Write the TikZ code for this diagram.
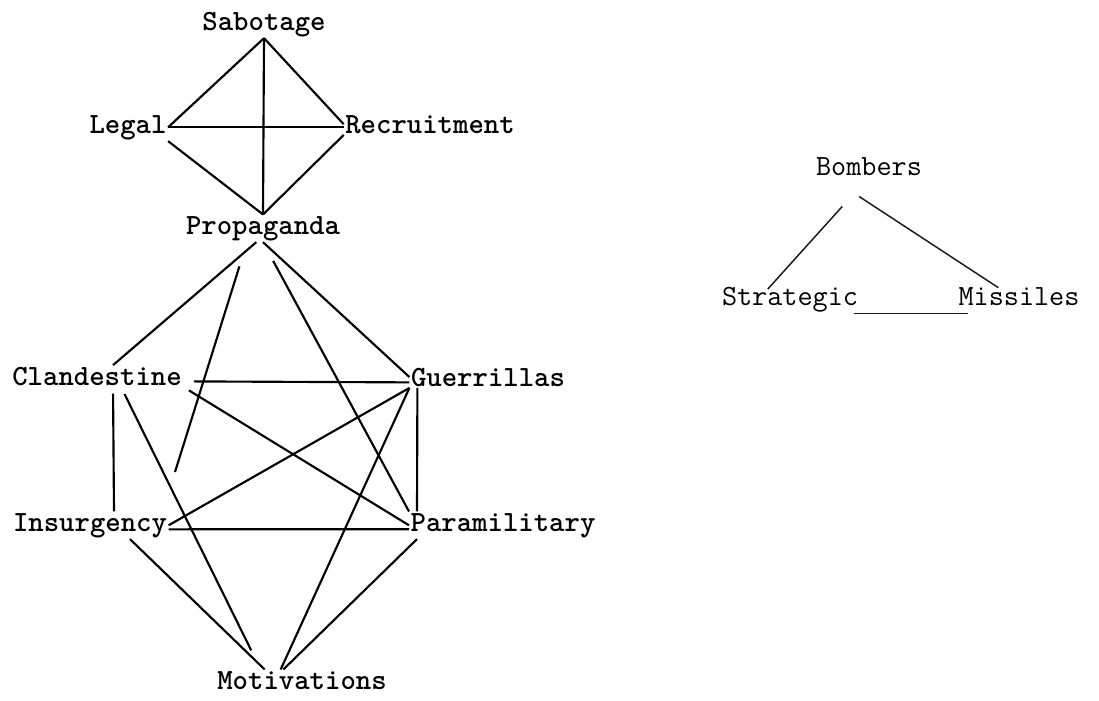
\documentclass[tikz,border=0pt]{standalone}
\usepackage{tikz}
\tikzset{
  term/.style={anchor=base,inner sep=1pt,font=\fontsize{22}{26}\selectfont\ttfamily\bfseries},
  termlight/.style={term,font=\fontsize{22}{26}\selectfont\ttfamily},
  bond/.style={line width=1.6pt,black},
  bondthin/.style={line width=1.1pt,black!90},
}

\begin{document}
\begin{tikzpicture}[x=0.75pt,y=-0.75pt]
	    \useasboundingbox (0,0) rectangle (1099,700);
	    \node[term] (Sab) at (264,30) {Sabotage};
	    \node[term] (Leg) at (128,133) {Legal};
	    \node[term] (Rec) at (430,133) {Recruitment};
	    \node[term] (Prop) at (263,234) {Propaganda};
	    \node[term] (Clan) at (97,385) {Clandestine};
	    \node[term] (Guer) at (488,386) {Guerrillas};
	    \node[term] (Ins) at (90,531) {Insurgency};
	    \node[term] (Para) at (503,531) {Paramilitary};
	    \node[term] (Mot) at (302,689) {Motivations};
	    \coordinate (Loose) at (175,472);
	    \node[termlight] (Bomb) at (869,175) {Bombers};
	    \node[termlight] (Strat) at (790,305) {Strategic};
	    \node[termlight] (Miss) at (1019,305) {Missiles};
	    \draw (Sab.south) edge[bond] (Leg.east) edge[bond] (Rec.west) edge[bond] (Prop.north);
	    \draw (Leg.east) edge[bond] (Leg.east -| Rec.west);
	    \draw (Leg.south east) edge[bond] (Prop.north);
	    \draw (Rec.south west) edge[bond] (Prop.north);
	    \draw ([xshift=-5pt]Prop.south) edge[bond] ([xshift=12pt]Clan.north);
	    \draw (Prop.south) edge[bond] (Guer.west);
	    \draw ([xshift=-12pt]Prop.south) edge[bond,shorten <=19pt] (Loose);
	    \draw (Prop.south) edge[bond,shorten <=16pt] (Para.north west);
	    \draw ([yshift=-4pt]Clan.east) edge[bond,shorten <=8pt] ([yshift=-4pt]Guer.west);
	    \draw (Clan.south east) edge[bond,shorten <=5pt] (Para.west);
	    \draw ([xshift=12pt]Clan.south) edge[bond,shorten <=5pt] ([xshift=18pt]Ins.north);
	    \draw ([xshift=18pt]Clan.south) edge[bond,shorten <=6pt,shorten >=16pt] ([xshift=-31pt]Mot.north);
	    \draw (Guer.south west) edge[bond] (Ins.east) edge[bond] ([xshift=-16pt]Mot.north);
	    \draw ([xshift=6pt]Guer.south west) edge[bond] ([xshift=6pt]Para.north west);
	    \draw ([yshift=-3pt]Ins.east) edge[bond] ([yshift=-3pt]Para.west);
	    \draw ([xshift=30pt]Ins.south) edge[bond] ([xshift=-28pt]Mot.north);
	    \draw ([xshift=6pt]Para.south west) edge[bond] ([xshift=-14pt]Mot.north);
	    \draw (Bomb.south) edge[bondthin,shorten <=30pt,shorten >=-4pt] ([xshift=-14pt]Strat.north);
	    \draw ([xshift=-30pt]Bomb.south) edge[bondthin,shorten <=27pt,shorten >=-3pt] ([xshift=-18pt]Miss.north);
	    \draw ([xshift=-4pt]Strat.south east) edge[bondthin] ([xshift=8pt]Strat.south east -| Miss.west);
	\end{tikzpicture}
\end{document}
